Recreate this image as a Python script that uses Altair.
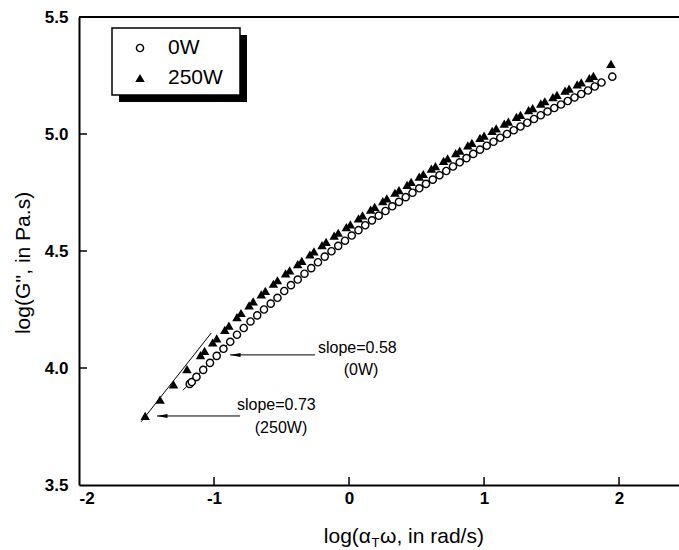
import altair as alt
import pandas as pd

# ---- data ----
tri_x = [-1.51, -1.40, -1.30, -1.20,
         -1.10, -1.07, -1.01, -0.98, -0.92, -0.89, -0.83, -0.80, -0.74, -0.71,
         -0.65, -0.62, -0.56, -0.53, -0.47, -0.44, -0.38, -0.35, -0.29, -0.26,
         -0.20, -0.17, -0.11, -0.08, -0.02, 0.01, 0.07, 0.10, 0.16, 0.19,
         0.25, 0.28, 0.34, 0.37, 0.43, 0.46, 0.52, 0.55, 0.61, 0.64,
         0.70, 0.73, 0.79, 0.82, 0.88, 0.91, 0.97, 1.00, 1.06, 1.09,
         1.15, 1.18, 1.24, 1.27, 1.33, 1.36, 1.42, 1.45, 1.51, 1.54,
         1.60, 1.63, 1.69, 1.72, 1.78, 1.81, 1.94]
tri_y = [3.795, 3.865, 3.930, 3.995,
         4.055, 4.073, 4.109, 4.127, 4.163, 4.181, 4.217, 4.235, 4.268, 4.285,
         4.315, 4.330, 4.360, 4.375, 4.404, 4.417, 4.444, 4.458, 4.485, 4.498,
         4.525, 4.539, 4.566, 4.578, 4.602, 4.614, 4.639, 4.652, 4.677, 4.689,
         4.713, 4.725, 4.749, 4.760, 4.783, 4.795, 4.818, 4.829, 4.852, 4.863,
         4.885, 4.896, 4.918, 4.929, 4.951, 4.962, 4.983, 4.993, 5.013, 5.024,
         5.044, 5.053, 5.073, 5.082, 5.102, 5.111, 5.130, 5.140, 5.158, 5.167,
         5.185, 5.194, 5.212, 5.221, 5.239, 5.248, 5.300]

circ_x = [-1.18, -1.165, -1.13, -1.08, -1.03, -0.98, -0.93, -0.88, -0.83, -0.78,
          -0.73, -0.68, -0.63, -0.58, -0.53, -0.48, -0.43, -0.38, -0.33, -0.28,
          -0.23, -0.18, -0.13, -0.08, -0.03, 0.02, 0.07, 0.12, 0.17, 0.22,
          0.27, 0.32, 0.37, 0.42, 0.47, 0.52, 0.57, 0.62, 0.67, 0.72,
          0.77, 0.82, 0.87, 0.92, 0.97, 1.02, 1.07, 1.12, 1.17, 1.22,
          1.27, 1.32, 1.37, 1.42, 1.47, 1.52, 1.57, 1.62, 1.67, 1.72,
          1.77, 1.82, 1.87, 1.95]
circ_y = [3.932, 3.940, 3.962, 3.992, 4.022, 4.052, 4.082, 4.112, 4.142, 4.171,
          4.199, 4.225, 4.250, 4.275, 4.300, 4.329, 4.354, 4.378, 4.403, 4.427,
          4.452, 4.476, 4.499, 4.522, 4.544, 4.566, 4.589, 4.610, 4.631, 4.651,
          4.671, 4.691, 4.710, 4.730, 4.749, 4.768, 4.787, 4.805, 4.824, 4.842,
          4.861, 4.879, 4.897, 4.915, 4.933, 4.950, 4.967, 4.984, 5.000, 5.016,
          5.032, 5.048, 5.064, 5.080, 5.096, 5.111, 5.126, 5.141, 5.156, 5.171,
          5.186, 5.203, 5.220, 5.245]

series_names = ["0W", "250W"]

# fitted slope lines (start, end)
fit_250_x = [-1.54, -1.02]
fit_250_y = [3.770, 4.150]
fit_0_x = [-1.23, -0.90]
fit_0_y = [3.905, 4.100]

# annotations
ann_text = ["slope=0.58", "(0W)", "slope=0.73", "(250W)"]
ann_x = [-0.230, 0.089, -0.830, -0.504]
ann_y = [4.085, 3.990, 3.842, 3.744]
ann_align = ["left", "center", "left", "center"]

arrow_x_tip = [-0.881, -1.422]
arrow_x_tail = [-0.252, -0.807]
arrow_y = [4.056, 3.795]

x_ticks = [-2, -1, 0, 1, 2]
y_ticks = [3.5, 4.0, 4.5, 5.0, 5.5]

W, H = 600, 468
FONT = "Liberation Sans"
TRI_SIZE = 90
CIRC_SIZE = 52

xs = alt.Scale(domain=[-2, 2.444], nice=False, zero=False)
ys = alt.Scale(domain=[3.5, 5.5], nice=False, zero=False)

tri_df = pd.DataFrame({"x": tri_x, "y": tri_y})
circ_df = pd.DataFrame({"x": circ_x, "y": circ_y})

xaxis = alt.Axis(values=x_ticks, labelExpr="'' + datum.value", title=None,
                 ticks=False, grid=False, labelPadding=5)
yaxis = alt.Axis(values=y_ticks, labelExpr="format(datum.value, '.1f')", title=None,
                 ticks=False, grid=False, labelPadding=11)

tri = alt.Chart(tri_df).mark_point(shape="triangle-up", filled=True, color="black",
                                    size=TRI_SIZE, opacity=1).encode(
    x=alt.X("x:Q", scale=xs, axis=xaxis),
    y=alt.Y("y:Q", scale=ys, axis=yaxis),
)
circ = alt.Chart(circ_df).mark_point(shape="circle", filled=False, color="black",
                                      fill="white", fillOpacity=1,
                                      size=CIRC_SIZE, strokeWidth=1.4, opacity=1).encode(
    x=alt.X("x:Q", scale=xs), y=alt.Y("y:Q", scale=ys))

fit250 = alt.Chart(pd.DataFrame({"x": fit_250_x, "y": fit_250_y})).mark_line(
    color="black", strokeWidth=1).encode(x=alt.X("x:Q", scale=xs), y=alt.Y("y:Q", scale=ys))
fit0 = alt.Chart(pd.DataFrame({"x": fit_0_x, "y": fit_0_y})).mark_line(
    color="black", strokeWidth=1).encode(x=alt.X("x:Q", scale=xs), y=alt.Y("y:Q", scale=ys))

arr_df = pd.DataFrame({"x": arrow_x_tip, "x2": arrow_x_tail, "y": arrow_y})
arrows = alt.Chart(arr_df).mark_rule(color="black", strokeWidth=1).encode(
    x=alt.X("x:Q", scale=xs), x2="x2:Q", y=alt.Y("y:Q", scale=ys))
heads = alt.Chart(arr_df).mark_point(shape="M0,0L2,-0.38L2,0.38Z", filled=True,
                                     color="black", size=110, opacity=1).encode(
    x=alt.X("x:Q", scale=xs), y=alt.Y("y:Q", scale=ys))

ann_layers = []
for t, ax_, ay_, al in zip(ann_text, ann_x, ann_y, ann_align):
    ann_layers.append(
        alt.Chart(pd.DataFrame({"x": [ax_], "y": [ay_], "t": [t]})).mark_text(
            font=FONT, fontSize=16, align=al, baseline="middle", color="black").encode(
            x=alt.X("x:Q", scale=xs), y=alt.Y("y:Q", scale=ys), text="t:N"))

xt_df = pd.DataFrame({"v": x_ticks[1:]})
xtick = alt.Chart(xt_df).mark_rule(color="black", strokeWidth=1.5).encode(
    x=alt.X("v:Q", scale=xs), y=alt.value(H), y2=alt.value(H - 8))
yt_df = pd.DataFrame({"v": y_ticks[1:-1]})
ytick = alt.Chart(yt_df).mark_rule(color="black", strokeWidth=1.5).encode(
    y=alt.Y("v:Q", scale=ys), x=alt.value(0), x2=alt.value(8))

top = alt.Chart(pd.DataFrame({"a": [0]})).mark_rule(color="black", strokeWidth=2).encode(
    x=alt.value(0), x2=alt.value(W), y=alt.value(0))

# legend (drawn by hand to keep the drop shadow)
one = pd.DataFrame({"a": [0]})
shadow = alt.Chart(one).mark_rect(color="black").encode(
    x=alt.value(40), x2=alt.value(168), y=alt.value(18), y2=alt.value(85))
box = alt.Chart(one).mark_rect(fill="white", stroke="black", strokeWidth=1.5).encode(
    x=alt.value(33), x2=alt.value(161), y=alt.value(11), y2=alt.value(78))
leg_c = alt.Chart(one).mark_point(shape="circle", filled=False, color="black", size=CIRC_SIZE,
                                  strokeWidth=1.4, opacity=1).encode(
    x=alt.value(61), y=alt.value(31))
leg_t = alt.Chart(one).mark_point(shape="triangle-up", filled=True, color="black",
                                  size=TRI_SIZE, opacity=1).encode(
    x=alt.value(61), y=alt.value(61))
leg_l1 = alt.Chart(pd.DataFrame({"t": [series_names[0]]})).mark_text(
    font=FONT, fontSize=21, align="left", baseline="middle", color="black").encode(
    x=alt.value(89), y=alt.value(31), text="t:N")
leg_l2 = alt.Chart(pd.DataFrame({"t": [series_names[1]]})).mark_text(
    font=FONT, fontSize=21, align="left", baseline="middle", color="black").encode(
    x=alt.value(89), y=alt.value(61), text="t:N")

# axis titles
ytitle = alt.Chart(pd.DataFrame({"t": ["log(G'', in Pa.s)"]})).mark_text(
    font=FONT, fontSize=21, angle=270, align="center", baseline="middle", color="black").encode(
    x=alt.value(-55), y=alt.value(246), text="t:N")
X0 = 292
xt1 = alt.Chart(pd.DataFrame({"t": ["log(\u03b1"]})).mark_text(
    font=FONT, fontSize=21, align="right", baseline="alphabetic", color="black").encode(
    x=alt.value(X0), y=alt.value(526), text="t:N")
xt2 = alt.Chart(pd.DataFrame({"t": ["T"]})).mark_text(
    font=FONT, fontSize=13, align="left", baseline="alphabetic", color="black").encode(
    x=alt.value(X0 + 0.5), y=alt.value(530), text="t:N")
xt3 = alt.Chart(pd.DataFrame({"t": ["\u03c9, in rad/s)"]})).mark_text(
    font=FONT, fontSize=21, align="left", baseline="alphabetic", color="black").encode(
    x=alt.value(X0 + 9), y=alt.value(526), text="t:N")

chart = alt.layer(
    tri, fit250, fit0, circ, arrows, heads, *ann_layers, xtick, ytick, top,
    shadow, box, leg_c, leg_t, leg_l1, leg_l2, ytitle, xt1, xt2, xt3
).properties(
    width=W, height=H,
    autosize=alt.AutoSizeParams(type="none"),
    padding={"left": 79, "top": 17, "right": 0, "bottom": 65},
).configure_view(stroke=None).configure_axis(
    domainColor="black", domainWidth=2, labelFont=FONT, labelFontSize=17,
    labelFontWeight="bold", labelColor="black",
)

chart.save("out.html", embed_options={"renderer": "svg", "actions": False})
